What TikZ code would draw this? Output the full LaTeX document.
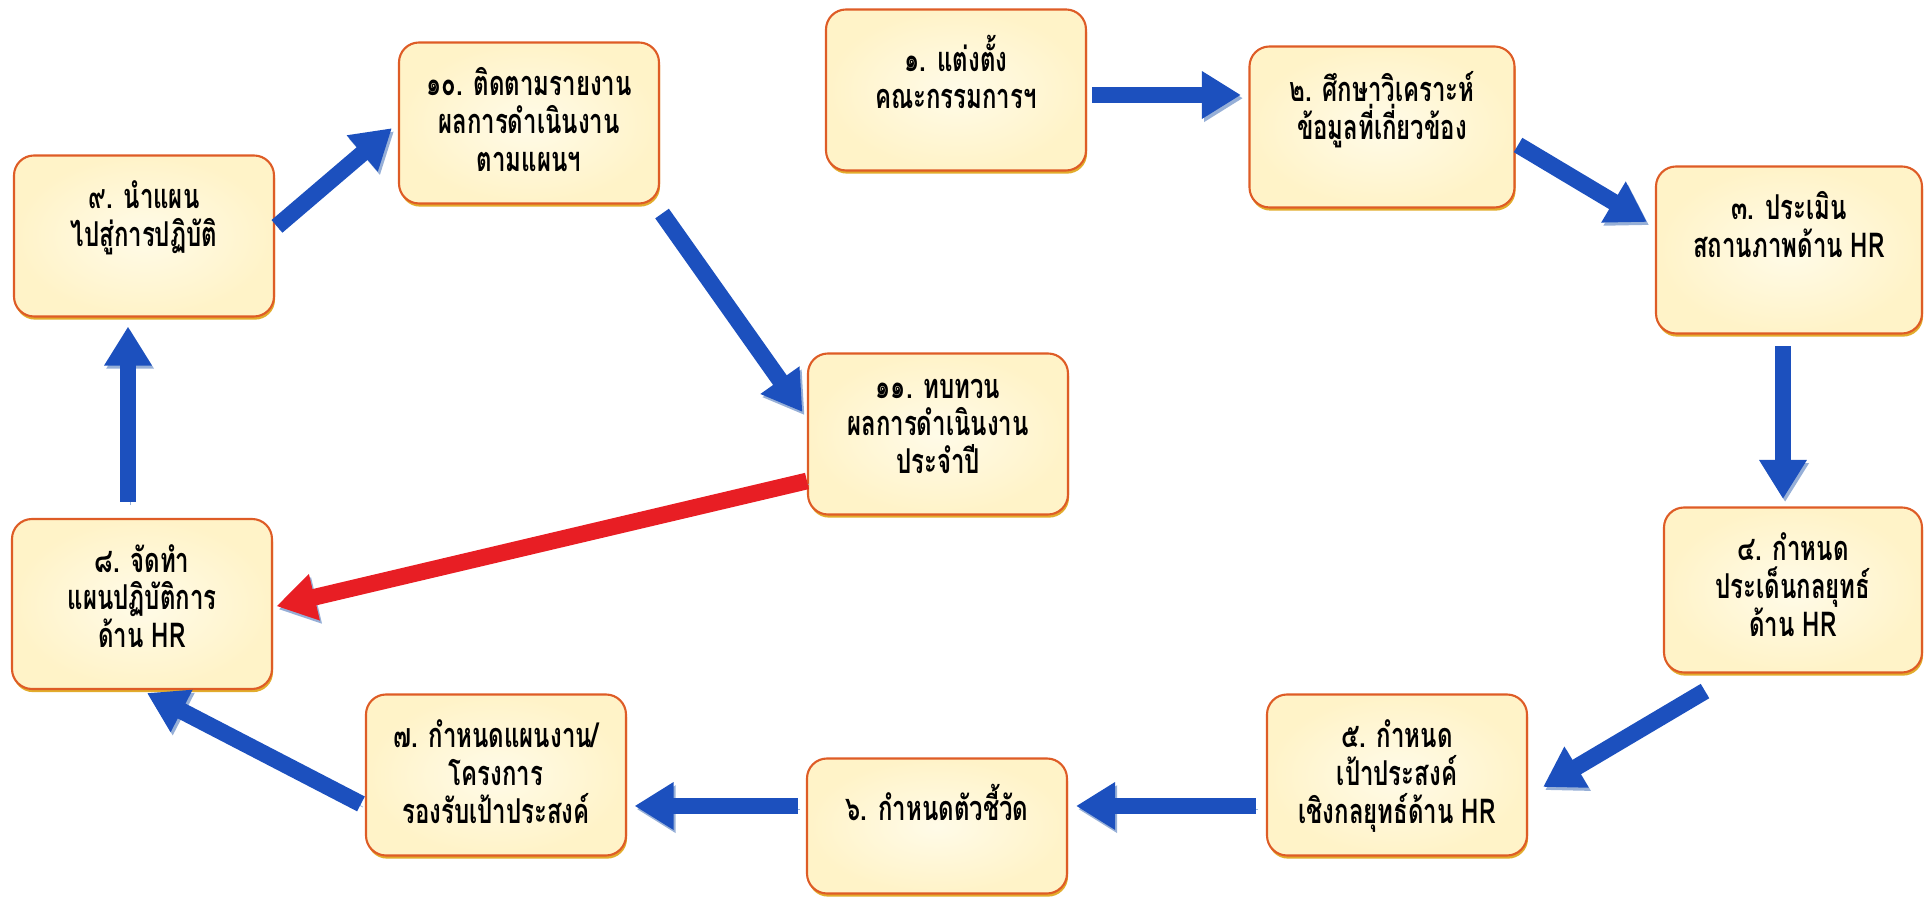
\documentclass[tikz,border=0pt]{standalone}
\usepackage{fontspec}
\newfontfamily\thaifont[Script=Thai, FakeStretch=0.7]{Loma}
\usetikzlibrary{calc,arrows.meta,shadows}

\definecolor{boxline}{RGB}{222,92,38}
\definecolor{boxfill}{RGB}{255,243,200}
\definecolor{boxlight}{RGB}{255,251,232}
\definecolor{boxshade}{RGB}{226,172,44}
\definecolor{flowblue}{RGB}{28,80,190}
\definecolor{flowred}{RGB}{232,30,36}
\definecolor{flowshade}{RGB}{150,175,215}

\begin{document}
\begin{tikzpicture}[
	box/.style={draw=boxline, line width=1.2pt, rounded corners=0.4cm,
		inner color=boxlight, outer color=boxfill,
		minimum width=5.2cm, minimum height=3.22cm,
		drop shadow={shadow xshift=0.6pt, shadow yshift=-1.8pt, fill=boxshade, opacity=1}},
	txt/.style={anchor=north, align=center, inner sep=0pt,
		font=\thaifont\bfseries\fontsize{19.5}{21.5}\selectfont,
		execute at begin node={\rule{0pt}{20pt}}},
	flow/.style={line width=9.5pt, draw=flowblue,
		-{Triangle[width=0.9cm,length=0.78cm]},
		preaction={draw=flowshade, transform canvas={shift={(1.2pt,-1.8pt)}}}},
	back/.style={flow, draw=flowred}
]

	\useasboundingbox (0,0) rectangle (38.52,17.96);

	\node[box] (s1) at (19.12,16.16) {};
	\node[box, minimum width=5.3cm] (s2) at (27.64,15.42) {};
	\node[box, minimum width=5.32cm, minimum height=3.34cm] (s3) at (35.78,12.96) {};
	\node[box, minimum width=5.16cm, minimum height=3.3cm] (s4) at (35.86,6.16) {};
	\node[box] (s5) at (27.94,2.46) {};
	\node[box, minimum height=2.7cm] (s6) at (18.74,1.44) {};
	\node[box] (s7) at (9.92,2.46) {};
	\node[box, minimum height=3.4cm] (s8) at (2.84,5.88) {};
	\node[box] (s9) at (2.88,13.24) {};
	\node[box] (s10) at (10.58,15.50) {};
	\node[box] (s11) at (18.76,9.28) {};

	\node[txt] (t1) at ([yshift=-0.52cm]s1.north) {๑. แต่งตั้ง\\คณะกรรมการฯ};
	\node[txt] (t2) at ([yshift=-0.52cm]s2.north) {๒. ศึกษาวิเคราะห์\\ข้อมูลที่เกี่ยวข้อง};
	\node[txt] (t3) at ([yshift=-0.52cm]s3.north) {๓. ประเมิน\\สถานภาพด้าน HR};
	\node[txt] (t4) at ([yshift=-0.52cm]s4.north) {๔. กำหนด\\ประเด็นกลยุทธ์\\ด้าน HR};
	\node[txt] (t5) at ([yshift=-0.52cm]s5.north) {๕. กำหนด\\เป้าประสงค์\\เชิงกลยุทธ์ด้าน HR};
	\node[txt] (t6) at ([yshift=-0.52cm]s6.north) {๖. กำหนดตัวชี้วัด};
	\node[txt] (t7) at ([yshift=-0.52cm]s7.north) {๗. กำหนดแผนงาน/\\โครงการ\\รองรับเป้าประสงค์};
	\node[txt] (t8) at ([yshift=-0.52cm]s8.north) {๘. จัดทำ\\แผนปฏิบัติการ\\ด้าน HR};
	\node[txt] (t9) at ([yshift=-0.52cm]s9.north) {๙. นำแผน\\ไปสู่การปฏิบัติ};
	\node[txt] (t10) at ([yshift=-0.52cm]s10.north) {๑๐. ติดตามรายงาน\\ผลการดำเนินงาน\\ตามแผนฯ};
	\node[txt] (t11) at ([yshift=-0.52cm]s11.north) {๑๑. ทบทวน\\ผลการดำเนินงาน\\ประจำปี};

	\draw[flow, shorten <=0.1cm, shorten >=0.15cm]
		([yshift=-0.1cm]s1.east) -- ([yshift=-0.1cm]s1.east -| s2.west);
	\draw[flow] ([xshift=0.05cm,yshift=-0.36cm]s2.east) -- ([xshift=-0.16cm,yshift=0.56cm]s3.west);
	\draw[flow, shorten <=0.23cm, shorten >=0.15cm]
		([xshift=-0.12cm]s3.south) -- ([xshift=-0.2cm]s4.north);
	\draw[flow] ([xshift=-1.76cm,yshift=-0.35cm]s4.south) -- ([xshift=0.3cm,yshift=-0.24cm]s5.east);
	\draw[flow, shorten <=0.2cm, shorten >=0.16cm]
		([yshift=-0.62cm]s5.west) -- ([yshift=-0.62cm]s5.west -| s6.east);
	\draw[flow, shorten <=0.16cm, shorten >=0.15cm]
		([yshift=0.4cm]s6.west) -- ([yshift=0.4cm]s6.west -| s7.east);
	\draw[flow, shorten <=0.09cm]
		([yshift=-0.62cm]s7.west) -- ([xshift=0.1cm,yshift=-0.06cm]s8.south);
	\draw[flow, shorten <=0.32cm, shorten >=0.18cm]
		([xshift=-0.28cm]s8.north) -- ([xshift=-0.32cm]s9.south);
	\draw[flow, shorten <=0.05cm, shorten >=0.16cm]
		([yshift=0.16cm]s9.east) -- (s10.west);
	\draw[flow] ([xshift=0.04cm,yshift=-0.18cm]s10.south east) -- ([xshift=-0.09cm,yshift=0.44cm]s11.west);
	\draw[back, shorten >=0.07cm]
		([yshift=-0.94cm]s11.west) -- ([yshift=-0.06cm]s8.east);

\end{tikzpicture}
\end{document}
